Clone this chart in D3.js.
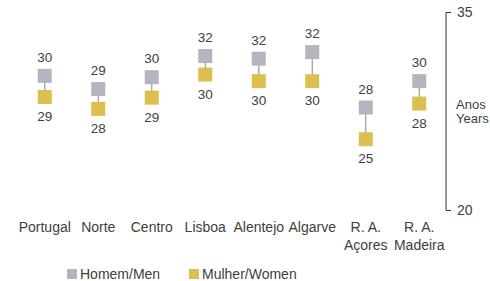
<!DOCTYPE html>
<html>
<head>
<meta charset="utf-8">
<script src="https://cdn.jsdelivr.net/npm/d3@7"></script>
<style>
  body { margin: 0; background: #fff; }
  text { font-family: "Liberation Sans", Arial, sans-serif; fill: #404040; }
</style>
</head>
<body>
<div id="wrapper"></div>
<script>
// Data
const regions = [["Portugal"], ["Norte"], ["Centro"], ["Lisboa"], ["Alentejo"], ["Algarve"], ["R. A.", "Açores"], ["R. A.", "Madeira"]]
const men   = [30.2, 29.2, 30.1, 31.7, 31.5, 32.0, 27.8, 29.8]
const women = [28.6, 27.7, 28.55, 30.3, 29.8, 29.8, 25.4, 28.1]
const yTicks = [20, 35]
const yTitle = ["Anos", "Years"]
const seriesNames = ["Homem/Men", "Mulher/Women"]
const colors = ["#b7b3bf", "#dcbf4f"]

const width = 490, height = 281
const svg = d3.select("#wrapper").append("svg")
    .attr("width", width)
    .attr("height", height)

// Scales
const xScale = d3.scalePoint()
    .domain(d3.range(regions.length))
    .range([18, 446])
    .padding(0.5)

const yScale = d3.scaleLinear()
    .domain([20, 35])
    .range([210.5, 12.5])

const size = 14

// Connector lines
svg.append("g").selectAll("line")
    .data(d3.range(regions.length))
    .join("line")
        .attr("x1", i => xScale(i))
        .attr("x2", i => xScale(i))
        .attr("y1", i => yScale(men[i]))
        .attr("y2", i => yScale(women[i]))
        .attr("stroke", "#9a9a9a")
        .attr("stroke-width", 1.2)

// Squares
const drawSeries = (values, color) => {
    svg.append("g").selectAll("rect")
        .data(values)
        .join("rect")
            .attr("x", (d, i) => xScale(i) - size / 2)
            .attr("y", d => yScale(d) - size / 2)
            .attr("width", size)
            .attr("height", size)
            .attr("fill", color)
}
drawSeries(men, colors[0])
drawSeries(women, colors[1])

// Value labels
svg.append("g").selectAll("text")
    .data(men)
    .join("text")
        .attr("x", (d, i) => xScale(i))
        .attr("y", d => yScale(d) - size / 2 - 7)
        .attr("text-anchor", "middle")
        .style("font-size", "13.5px")
        .text(d => Math.round(d))

svg.append("g").selectAll("text")
    .data(women)
    .join("text")
        .attr("x", (d, i) => xScale(i))
        .attr("y", d => yScale(d) + size / 2 + 17)
        .attr("text-anchor", "middle")
        .style("font-size", "13.5px")
        .text(d => Math.round(d))

// Category labels
const catLabels = svg.append("g").selectAll("text")
    .data(regions)
    .join("text")
        .attr("x", (d, i) => xScale(i))
        .attr("y", 232)
        .attr("text-anchor", "middle")
        .style("font-size", "14px")
catLabels.selectAll("tspan")
    .data(d => d)
    .join("tspan")
        .attr("x", function () { return d3.select(this.parentNode).attr("x") })
        .attr("dy", (d, j) => j === 0 ? 0 : 18)
        .text(d => d)

// Right axis
const axisX = xScale.range()[1]
const axis = svg.append("g")
    .attr("transform", `translate(${axisX},0)`)
    .call(d3.axisRight(yScale).tickValues(yTicks).tickSize(5).tickPadding(6))
axis.select(".domain")
    .attr("d", `M5,${yScale(35)}H0V${yScale(20)}H5`)
    .attr("stroke", "#333")
axis.selectAll(".tick line").remove()
axis.selectAll(".tick text")
    .attr("font-family", null)
    .style("font-size", "14px")
    .attr("fill", null)

svg.append("g").selectAll("text")
    .data(yTitle)
    .join("text")
        .attr("x", axisX + 10)
        .attr("y", (d, i) => 109 + i * 14)
        .style("font-size", "13px")
        .text(d => d)

// Legend
const legend = svg.append("g").selectAll("g")
    .data(seriesNames)
    .join("g")
        .attr("transform", (d, i) => `translate(${67 + i * 122},269)`)
legend.append("rect")
    .attr("width", 10)
    .attr("height", 10)
    .attr("fill", (d, i) => colors[i])
legend.append("text")
    .attr("x", 13)
    .attr("y", 10)
    .style("font-size", "14px")
    .text(d => d)
</script>
</body>
</html>
